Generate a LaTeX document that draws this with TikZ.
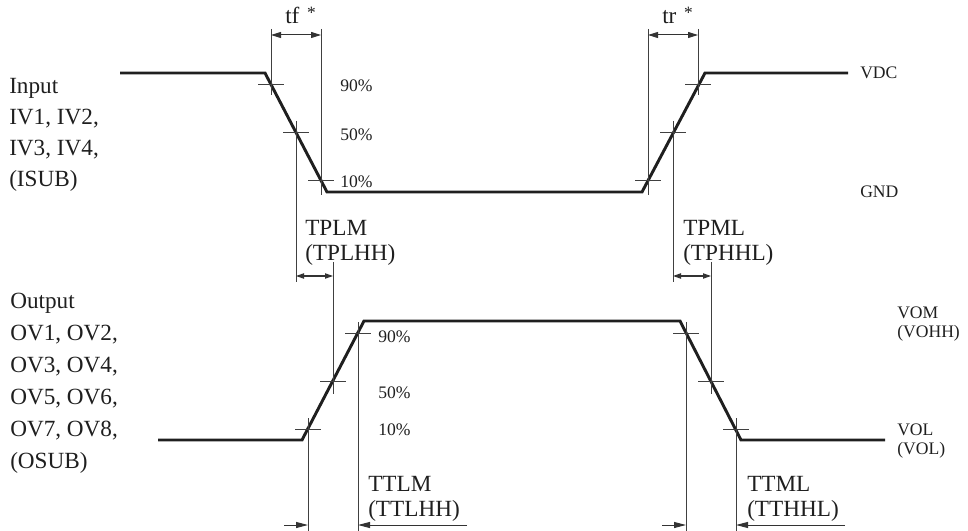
\documentclass[tikz,border=0pt]{standalone}
\usepackage{fontspec}
\setmainfont{Liberation Serif}
\usetikzlibrary{arrows.meta}
\begin{document}
\begin{tikzpicture}[x=0.75pt,y=-0.75pt,
  wave/.style={line width=2.2pt, draw=black!88, line join=miter},
  guide/.style={line width=0.75pt, draw=black!75},
  dimarr/.style={line width=0.75pt, draw=black!80, {Triangle[length=7.5pt,width=4.5pt]}-{Triangle[length=7.5pt,width=4.5pt]}},
  smallarr/.style={line width=0.75pt, draw=black!80, {Triangle[length=6pt,width=4pt]}-{Triangle[length=6pt,width=4pt]}},
  inarr/.style={line width=0.75pt, draw=black!80, -{Triangle[length=9pt,width=4.5pt]}},
  big/.style={font=\fontsize{17.4}{20}\selectfont, text=black!88, inner sep=0pt, anchor=base west},
  small/.style={font=\fontsize{13.2}{15}\selectfont, text=black!88, inner sep=0pt, anchor=base west},
]
\useasboundingbox (0,0) rectangle (968,531);

% ---------------- key points ----------------
\coordinate (iS) at (120,73);   \coordinate (iA) at (265,73);
\coordinate (iB) at (327,192);  \coordinate (iC) at (642,192);
\coordinate (iD) at (705,73);   \coordinate (iE) at (848,73);
\coordinate (oS) at (158,440);  \coordinate (oA) at (302,440);
\coordinate (oB) at (364,321);  \coordinate (oC) at (680,321);
\coordinate (oD) at (741,440);  \coordinate (oE) at (885,440);

\coordinate (i90a) at (271,85);  \coordinate (i50a) at (296,133); \coordinate (i10a) at (321,181);
\coordinate (i10b) at (648,181); \coordinate (i50b) at (673,133); \coordinate (i90b) at (698,85);
\coordinate (o10a) at (308,429); \coordinate (o50a) at (333,381); \coordinate (o90a) at (358,333);
\coordinate (o90b) at (686,333); \coordinate (o50b) at (711,381); \coordinate (o10b) at (736,429);

% ---------------- waveforms ----------------
\draw[wave] (iS) -- (iA) -- (iB) -- (iC) -- (iD) -- (iE);
\draw[wave] (oS) -- (oA) -- (oB) -- (oC) -- (oD) -- (oE);

% ---------------- tick marks ----------------
\foreach \p in {i90a,i50a,i10a,i10b,i50b,i90b,o10a,o50a,o90a,o90b,o50b,o10b}
  \draw[guide] (\p) ++(-13,0) -- ++(26,0);

% ---------------- extension lines ----------------
\draw[guide] (271,29) -- (271,95);
\draw[guide] (321,29) -- (321,195);
\draw[guide] (296,121) -- (296,282);
\draw[guide] (648,29) -- (648,195);
\draw[guide] (698,29) -- (698,95);
\draw[guide] (673,121) -- (673,282);

\draw[guide] (333,262) -- (333,394);
\draw[guide] (308,418) -- (308,531);
\draw[guide] (358,322) -- (358,531);
\draw[guide] (686,322) -- (686,531);
\draw[guide] (711,262) -- (711,394);
\draw[guide] (736,418) -- (736,531);

% ---------------- dimension arrows ----------------
\coordinate (tfL) at (271,35); \coordinate (tfR) at (321,35);
\coordinate (trL) at (648,35); \coordinate (trR) at (698,35);
\draw[dimarr] (tfL) -- (tfR);
\draw[dimarr] (trL) -- (trR);

\coordinate (plmL) at (296,276); \coordinate (plmR) at (333,276);
\coordinate (pmlL) at (673,276); \coordinate (pmlR) at (711,276);
\draw[smallarr] (plmL) -- (plmR);
\draw[smallarr] (pmlL) -- (pmlR);

\coordinate (tlmA) at (284,525); \coordinate (tlmL) at (308,525);
\coordinate (tlmR) at (358,525); \coordinate (tlmB) at (467,525);
\draw[inarr] (tlmA) -- (tlmL);
\draw[inarr] (tlmB) -- (tlmR);
\coordinate (tmlA) at (662,525); \coordinate (tmlL) at (686,525);
\coordinate (tmlR) at (736,525); \coordinate (tmlB) at (845,525);
\draw[inarr] (tmlA) -- (tmlL);
\draw[inarr] (tmlB) -- (tmlR);

% ---------------- labels ----------------
\node[big] (tf) at (285,24) {tf\,\,{\fontsize{13}{13}\selectfont\raisebox{4pt}{*}}};
\node[big] (tr) at (662,24) {tr\,\,{\fontsize{13}{13}\selectfont\raisebox{4pt}{*}}};

\node[big] (in1) at (9,93.5)  {Input};
\node[big] (in2) at (9,124.5) {IV1, IV2,};
\node[big] (in3) at (9,155.5) {IV3, IV4,};
\node[big] (in4) at (9,186.5) {(ISUB)};

\node[big] (out1) at (10,308.5) {Output};
\node[big] (out2) at (10,340.5) {OV1, OV2,};
\node[big] (out3) at (10,372.5) {OV3, OV4,};
\node[big] (out4) at (10,404.5) {OV5, OV6,};
\node[big] (out5) at (10,436.5) {OV7, OV8,};
\node[big] (out6) at (10,468.5) {(OSUB)};

\node[small] (p90i) at (340,92)  {90\%};
\node[small] (p50i) at (340,141) {50\%};
\node[small] (p10i) at (340,188) {10\%};
\node[small] (p90o) at (378,342) {90\%};
\node[small] (p50o) at (378,398) {50\%};
\node[small] (p10o) at (378,435) {10\%};

\node[small] (vdc) at (860,79)  {VDC};
\node[small] (gnd) at (860,198) {GND};
\node[small] (vom)  at (897,318) {VOM};
\node[small] (vohh) at (897,337) {(VOHH)};
\node[small] (vol1) at (897,435) {VOL};
\node[small] (vol2) at (897,454) {(VOL)};

\node[big] (tplm)  at (305,235.5) {TPLM};
\node[big] (tplhh) at (305,260.5) {(TPLHH)};
\node[big] (tpml)  at (683,235.5) {TPML};
\node[big] (tphhl) at (683,260.5) {(TPHHL)};
\node[big] (ttlm)  at (368,491.5) {TTLM};
\node[big] (ttlhh) at (368,516.5) {(TTLHH)};
\node[big] (ttml)  at (747,491.5) {TTML};
\node[big] (tthhl) at (747,516.5) {(TTHHL)};
\end{tikzpicture}
\end{document}
